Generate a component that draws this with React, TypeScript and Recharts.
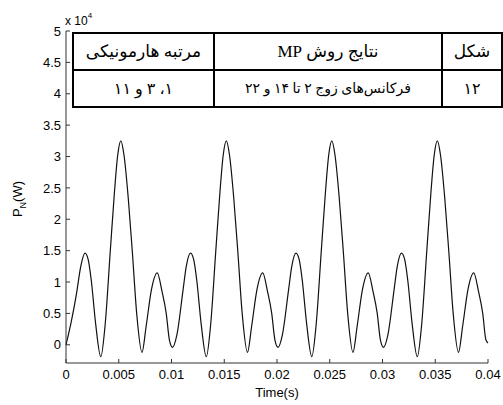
import { LineChart, Line, XAxis, YAxis, Label } from "recharts";

// time (s) and power (W), 4 periods of 10 ms
const TIME_S = [
  0, 0.0005, 0.001, 0.0014, 0.0018, 0.0021, 0.0024, 0.0028, 0.0033, 0.0037, 0.0042, 0.0046, 0.0049,
  0.0052, 0.0055, 0.0059, 0.0063, 0.0067, 0.0072, 0.0076, 0.0081, 0.00865, 0.0091, 0.0095, 0.0098,
  0.0101, 0.0105, 0.0111, 0.0114, 0.0118, 0.0121, 0.0124, 0.0128, 0.0133, 0.0137, 0.0142, 0.0146, 0.0149,
  0.0152, 0.0155, 0.0159, 0.0163, 0.0167, 0.0172, 0.0176, 0.0181, 0.01865, 0.0191, 0.0195, 0.0198,
  0.0201, 0.0205, 0.0211, 0.0214, 0.0218, 0.0221, 0.0224, 0.0228, 0.0233, 0.0237, 0.0242, 0.0246, 0.0249,
  0.0252, 0.0255, 0.0259, 0.0263, 0.0267, 0.0272, 0.0276, 0.0281, 0.02865, 0.0291, 0.0295, 0.0298,
  0.0301, 0.0305, 0.0311, 0.0314, 0.0318, 0.0321, 0.0324, 0.0328, 0.0333, 0.0337, 0.0342, 0.0346, 0.0349,
  0.0352, 0.0355, 0.0359, 0.0363, 0.0367, 0.0372, 0.0376, 0.0381, 0.03865, 0.0391, 0.0395, 0.0398,
  0.04,
];

const POWER_W = [
  0, 3700, 8200, 12500, 14600, 13600, 10200, 3500, -1900, 3000, 15000, 24500, 30200,
  32500, 30200, 23400, 14500, 5000, -1200, 3000, 8800, 11450, 8500, 5000, 800,
  -400, 1500, 8800, 12500, 14600, 13600, 10200, 3500, -1900, 3000, 15000, 24500, 30200,
  32500, 30200, 23400, 14500, 5000, -1200, 3000, 8800, 11450, 8500, 5000, 800,
  -400, 1500, 8800, 12500, 14600, 13600, 10200, 3500, -1900, 3000, 15000, 24500, 30200,
  32500, 30200, 23400, 14500, 5000, -1200, 3000, 8800, 11450, 8500, 5000, 800,
  -400, 1500, 8800, 12500, 14600, 13600, 10200, 3500, -1900, 3000, 15000, 24500, 30200,
  32500, 30200, 23400, 14500, 5000, -1200, 3000, 8800, 11450, 8500, 5000, 800,
  300,
];

const X_TICKS = [0, 0.005, 0.01, 0.015, 0.02, 0.025, 0.03, 0.035, 0.04];
const Y_TICKS = [0, 5000, 10000, 15000, 20000, 25000, 30000, 35000, 40000, 45000, 50000];

const TABLE_HEAD = ["مرتبه هارمونیکی", "نتایج روش MP", "شکل"];
const TABLE_ROW = ["۱، ۳ و ۱۱", "فرکانس\u200cهای زوج ۲ تا ۱۴ و ۲۲", "۱۲"];

const data = TIME_S.map((t, i) => ({ t, p: POWER_W[i] }));

const AXIS_FONT = "Arial, 'Liberation Sans', Helvetica, sans-serif";
const TABLE_FONT = "'Times New Roman', 'Liberation Serif', 'DejaVu Sans', serif";
const AXIS_COLOR = "#333";
const TICK_LEN = 4;
const X_MARGIN = 7;
const Y_MARGIN = 5;

function XTick(props: any) {
  const { x, y, payload } = props;
  const axisY = y - X_MARGIN;
  return (
    <g>
      <line x1={x} x2={x} y1={axisY} y2={axisY - TICK_LEN} stroke={AXIS_COLOR} />
      <text x={x} y={y} dy="0.71em" textAnchor="middle" fontSize={13} fontFamily={AXIS_FONT} fill="#000">
        {payload.value}
      </text>
    </g>
  );
}

function YTick(props: any) {
  const { x, y, payload } = props;
  const axisX = x + Y_MARGIN;
  return (
    <g>
      <line x1={axisX} x2={axisX + TICK_LEN} y1={y} y2={y} stroke={AXIS_COLOR} />
      <text x={x} y={y} dy="0.355em" textAnchor="end" fontSize={13} fontFamily={AXIS_FONT} fill="#000">
        {payload.value / 10000}
      </text>
    </g>
  );
}

function YTitle() {
  return (
    <g fontFamily={AXIS_FONT} fill="#000">
      <text transform="translate(22,199) rotate(-90)" textAnchor="middle" fontSize={13}>
        P<tspan fontSize={9} dy={4}>N</tspan>
        <tspan dy={-4}>(W)</tspan>
      </text>
      <text x={65} y={25} fontSize={12}>
        x 10<tspan fontSize={8} dy={-7}>4</tspan>
      </text>
    </g>
  );
}

const cell = (left: number, top: number, width: number, size: number) => ({
  position: "absolute" as const,
  left,
  top,
  width,
  height: 35,
  display: "flex",
  alignItems: "center",
  justifyContent: "center",
  fontFamily: TABLE_FONT,
  fontSize: size,
  color: "#000",
  direction: "rtl" as const,
  whiteSpace: "nowrap" as const,
});

export default function App() {
  const cols = [
    { left: 0, width: 139 },
    { left: 141, width: 226 },
    { left: 369, width: 58 },
  ];
  return (
    <div style={{ position: "absolute", left: 0, top: 0, width: 503, height: 405, background: "#fff" }}>
      <LineChart width={503} height={405} data={data} margin={{ top: 31, right: 15, bottom: 0, left: 0 }}>
        <XAxis
          dataKey="t"
          type="number"
          domain={[0, 0.04]}
          ticks={X_TICKS}
          interval={0}
          height={42}
          tickSize={0}
          tickMargin={X_MARGIN}
          tickLine={false}
          tick={<XTick />}
          axisLine={{ stroke: AXIS_COLOR }}
        >
          <Label value="Time(s)" position="insideBottom" offset={8} fontSize={13} fontFamily={AXIS_FONT} fill="#000" />
        </XAxis>
        <YAxis
          type="number"
          domain={[-2900, 50000]}
          ticks={Y_TICKS}
          interval={0}
          width={66}
          tickSize={0}
          tickMargin={Y_MARGIN}
          tickLine={false}
          tick={<YTick />}
          axisLine={{ stroke: AXIS_COLOR }}
          allowDataOverflow
        >
          <Label content={<YTitle />} />
        </YAxis>
        <Line
          dataKey="p"
          type="monotone"
          stroke="#111"
          strokeWidth={1.2}
          dot={false}
          isAnimationActive={false}
        />
      </LineChart>
      <div
        style={{
          position: "absolute",
          left: 72,
          top: 32,
          width: 431,
          height: 76,
          border: "2px solid #000",
          boxSizing: "border-box",
          background: "#fff",
        }}
      >
        <div style={{ position: "absolute", left: 139, top: 0, width: 2, height: 72, background: "#000" }} />
        <div style={{ position: "absolute", left: 367, top: 0, width: 2, height: 72, background: "#000" }} />
        <div style={{ position: "absolute", left: 0, top: 35, width: 427, height: 2, background: "#000" }} />
        {TABLE_HEAD.map((txt, i) => (
          <div key={"h" + i} style={cell(cols[i].left, 0, cols[i].width, 17)}>
            {txt}
          </div>
        ))}
        {TABLE_ROW.map((txt, i) => (
          <div key={"r" + i} style={cell(cols[i].left, 37, cols[i].width, i === 1 ? 14 : 16)}>
            {txt}
          </div>
        ))}
      </div>
    </div>
  );
}
